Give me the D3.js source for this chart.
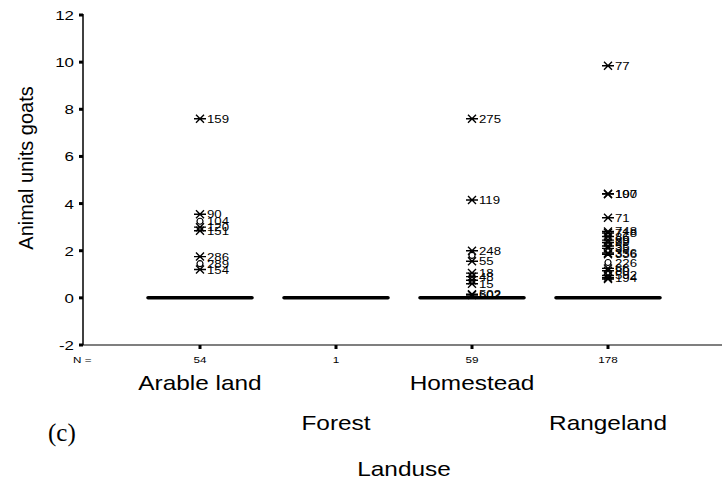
<!DOCTYPE html>
<html>
<head>
<meta charset="utf-8">
<script src="https://cdn.jsdelivr.net/npm/d3@7"></script>
<style>
  body { margin: 0; background: #fff; }
  text { font-family: "Liberation Sans", Arial, sans-serif; fill: #000; }
</style>
</head>
<body>
<svg id="chart" width="722" height="484"></svg>
<script>
// categories and group sizes
const categories = ["Arable land", "Forest", "Homestead", "Rangeland"];
const counts = [54, 1, 59, 178];
const medians = [0, 0, 0, 0];
const yTicks = [-2, 0, 2, 4, 6, 8, 10, 12];

// outlying cases: group, value, case id, kind ("x" = extreme, "o" = outlier)
const pointGroup = [
  "Arable land", "Arable land", "Arable land", "Arable land", "Arable land", "Arable land", "Arable land", "Arable land",
  "Homestead", "Homestead", "Homestead", "Homestead", "Homestead", "Homestead", "Homestead", "Homestead", "Homestead", "Homestead", "Homestead",
  "Rangeland", "Rangeland", "Rangeland", "Rangeland", "Rangeland", "Rangeland", "Rangeland", "Rangeland", "Rangeland",
  "Rangeland", "Rangeland", "Rangeland", "Rangeland", "Rangeland", "Rangeland", "Rangeland", "Rangeland", "Rangeland", "Rangeland"
];
const pointValue = [
  7.6, 3.55, 3.25, 3.0, 2.85, 1.75, 1.45, 1.2,
  7.6, 4.15, 2.0, 1.8, 1.55, 1.05, 0.9, 0.75, 0.6, 0.15, 0.12,
  9.85, 4.42, 4.4, 3.4, 2.82, 2.75, 2.6, 2.45, 2.35,
  2.2, 2.1, 1.9, 1.85, 1.5, 1.25, 1.15, 0.95, 0.85, 0.8
];
const pointLabel = [
  "159", "90", "104", "120", "151", "286", "289", "154",
  "275", "119", "248", "", "55", "18", "48", "", "15", "502", "602",
  "77", "190", "107", "71", "748", "718", "86", "89", "39",
  "55", "35", "356", "336", "226", "66", "80", "592", "194", ""
];
const pointKind = [
  "x", "x", "o", "x", "x", "x", "o", "x",
  "x", "x", "x", "o", "x", "x", "x", "x", "x", "x", "x",
  "x", "x", "x", "x", "x", "x", "x", "x", "x",
  "x", "x", "x", "x", "o", "x", "x", "x", "x", "x"
];

const svg = d3.select("#chart");

const x = d3.scaleBand()
  .domain(categories)
  .range([132, 676])
  .paddingInner(0)
  .paddingOuter(0);

const y = d3.scaleLinear()
  .domain([-2, 12])
  .range([345, 15]);

const axisLeftX = 83;
const cx = (c) => x(c) + x.bandwidth() / 2;

// y axis line + square tick marks
svg.append("line")
  .attr("x1", axisLeftX).attr("x2", axisLeftX)
  .attr("y1", y(12) - 1).attr("y2", y(-2))
  .attr("stroke", "#000").attr("stroke-width", 1.5);

svg.selectAll(".ytick")
  .data(yTicks)
  .enter()
  .append("rect")
  .attr("x", axisLeftX - 4)
  .attr("y", (d) => y(d) - 1.5)
  .attr("width", 4)
  .attr("height", 3)
  .attr("fill", "#000");

svg.selectAll(".ylab")
  .data(yTicks)
  .enter()
  .append("text")
  .attr("transform", (d) => `translate(74,${y(d) + 5}) scale(1.3,1)`)
  .attr("text-anchor", "end")
  .style("font-size", "13px")
  .text((d) => d);

// x axis line + square tick marks
svg.append("line")
  .attr("x1", axisLeftX).attr("x2", 722)
  .attr("y1", y(-2)).attr("y2", y(-2))
  .attr("stroke", "#000").attr("stroke-width", 1.2);

svg.selectAll(".xtick")
  .data(categories)
  .enter()
  .append("rect")
  .attr("x", (d) => cx(d) - 1.5)
  .attr("y", y(-2))
  .attr("width", 3)
  .attr("height", 4)
  .attr("fill", "#000");

// N = row
svg.append("text")
  .attr("transform", `translate(73,363) scale(1.3,1)`)
  .style("font-size", "9px")
  .text("N =");

svg.selectAll(".ncount")
  .data(categories)
  .enter()
  .append("text")
  .attr("transform", (d) => `translate(${cx(d)},363) scale(1.3,1)`)
  .attr("text-anchor", "middle")
  .style("font-size", "9px")
  .text((d, i) => counts[i]);

// median lines (boxes collapsed at 0)
const boxW = x.bandwidth() * 0.765;
svg.selectAll(".median")
  .data(categories)
  .enter()
  .append("line")
  .attr("x1", (d) => cx(d) - boxW / 2)
  .attr("x2", (d) => cx(d) + boxW / 2)
  .attr("y1", (d, i) => y(medians[i]))
  .attr("y2", (d, i) => y(medians[i]))
  .attr("stroke", "#000")
  .attr("stroke-width", 3.5)
  .attr("stroke-linecap", "round");

// outliers and extremes
const points = pointValue.map((v, i) => ({
  group: pointGroup[i], value: v, label: pointLabel[i], kind: pointKind[i]
}));

const pg = svg.selectAll(".pt")
  .data(points)
  .enter()
  .append("g")
  .attr("transform", (d) => `translate(${cx(d.group)},${y(d.value)})`);

pg.filter((d) => d.kind === "x")
  .append("path")
  .attr("d", "M-4,-4L4,4M-4,4L4,-4M-6,0L6,0")
  .attr("stroke", "#000")
  .attr("stroke-width", 1.4)
  .attr("fill", "none");

pg.filter((d) => d.kind === "o")
  .append("circle")
  .attr("r", 3)
  .attr("fill", "#fff")
  .attr("stroke", "#000")
  .attr("stroke-width", 1.2);

pg.append("text")
  .attr("transform", "translate(7,4) scale(1.2,1)")
  .style("font-size", "11px")
  .text((d) => d.label);

// category labels in two staggered rows
svg.selectAll(".cat")
  .data(categories)
  .enter()
  .append("text")
  .attr("transform", (d, i) => `translate(${cx(d)},${i % 2 === 0 ? 390 : 430}) scale(1.22,1)`)
  .attr("text-anchor", "middle")
  .style("font-size", "20px")
  .text((d) => d);

// axis titles
svg.append("text")
  .attr("transform", `translate(404,476) scale(1.22,1)`)
  .attr("text-anchor", "middle")
  .style("font-size", "20px")
  .text("Landuse");

svg.append("text")
  .attr("transform", "translate(33,168) rotate(-90)")
  .attr("text-anchor", "middle")
  .style("font-size", "20px")
  .text("Animal units goats");

svg.append("text")
  .attr("x", 48)
  .attr("y", 441)
  .style("font-family", "'Liberation Serif', 'Times New Roman', serif")
  .style("font-size", "25px")
  .text("(c)");
</script>
</body>
</html>
